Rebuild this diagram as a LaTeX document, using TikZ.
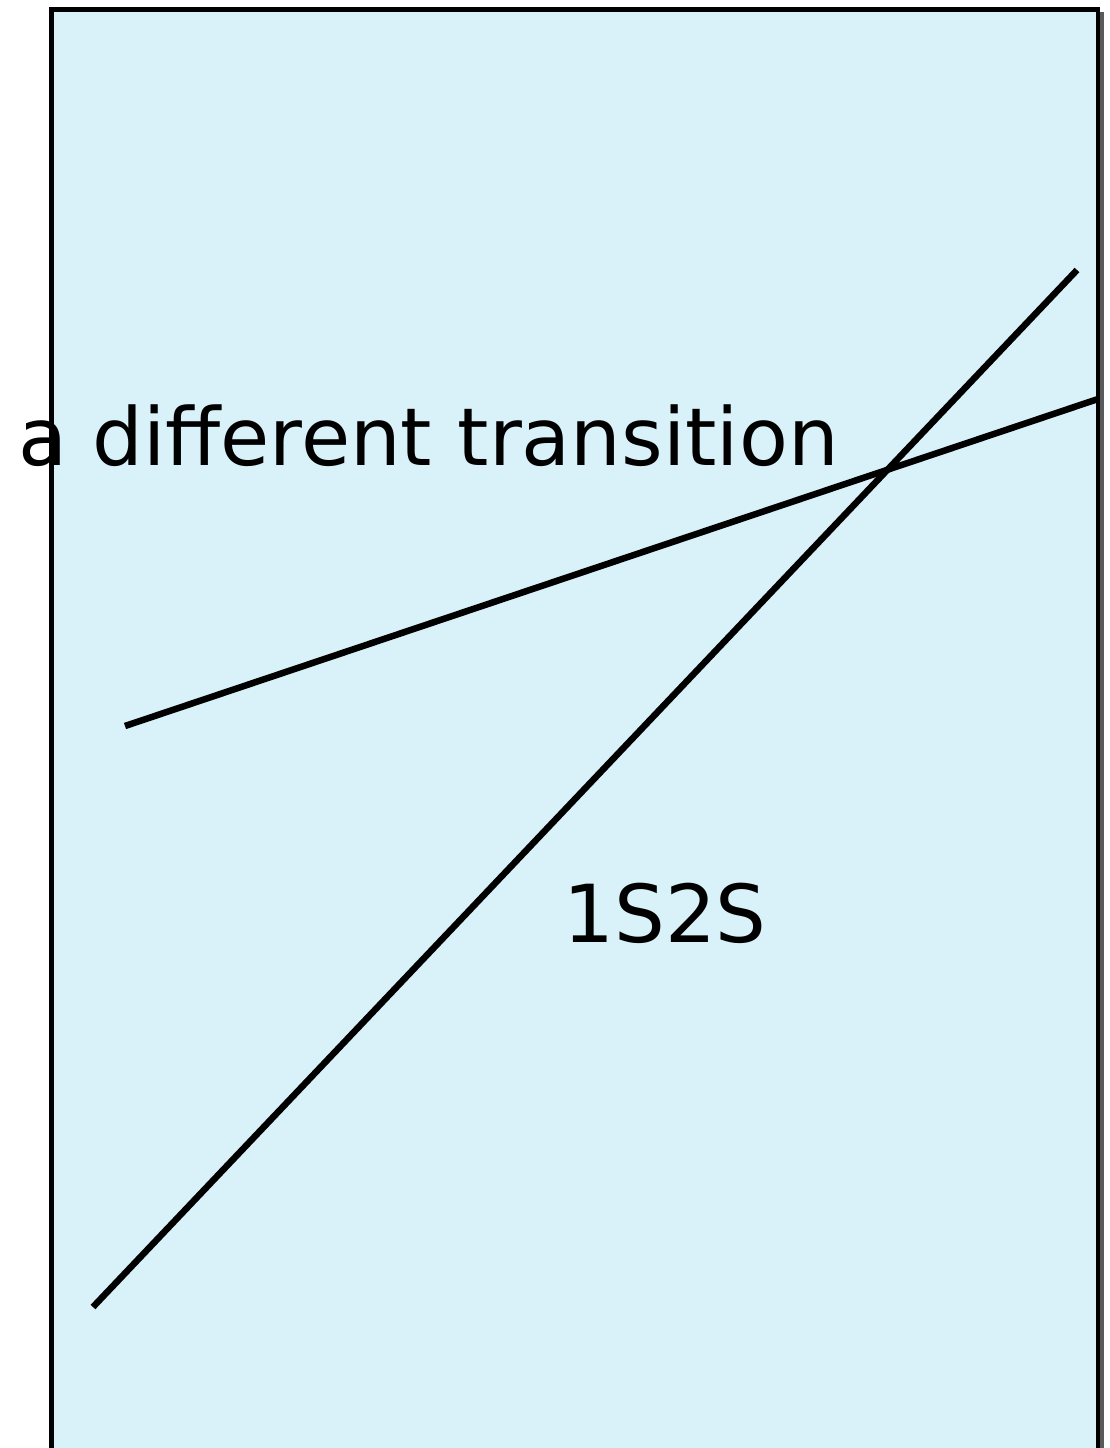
\documentclass[tikz,border=0pt]{standalone}
\usepackage{fontspec}
\setmainfont{DejaVu Sans}
\definecolor{panelfill}{HTML}{D9F1F8}
\definecolor{shadowgray}{HTML}{5A5A5A}
\begin{document}
\begin{tikzpicture}[x=1pt,y=-1pt,
  panel/.style={draw=black,line width=4.5pt,fill=panelfill},
  curve/.style={draw=black,line width=6.5pt},
  lbl/.style={font=\fontsize{80}{90}\selectfont,inner sep=0pt,anchor=base}]
\useasboundingbox (0,0) rectangle (1110,1448);
\clip (0,0) rectangle (1110,1448);
\draw[shadowgray,line width=4pt] (1102,12) -- (1102,1460);
\path[panel] (51.5,9.5) rectangle (1098,1452);
\coordinate (a1) at (93,1307);
\coordinate (a2) at (1077,270);
\coordinate (b1) at (125,726);
\coordinate (b2) at (1098,399);
\draw[curve] (a1) -- (a2);
\draw[curve] (b1) -- (b2);
\node[lbl] (t1) at (428.5,465) {a different transition};
\node[lbl] (t2) at (665,942) {1S2S};
\end{tikzpicture}
\end{document}
